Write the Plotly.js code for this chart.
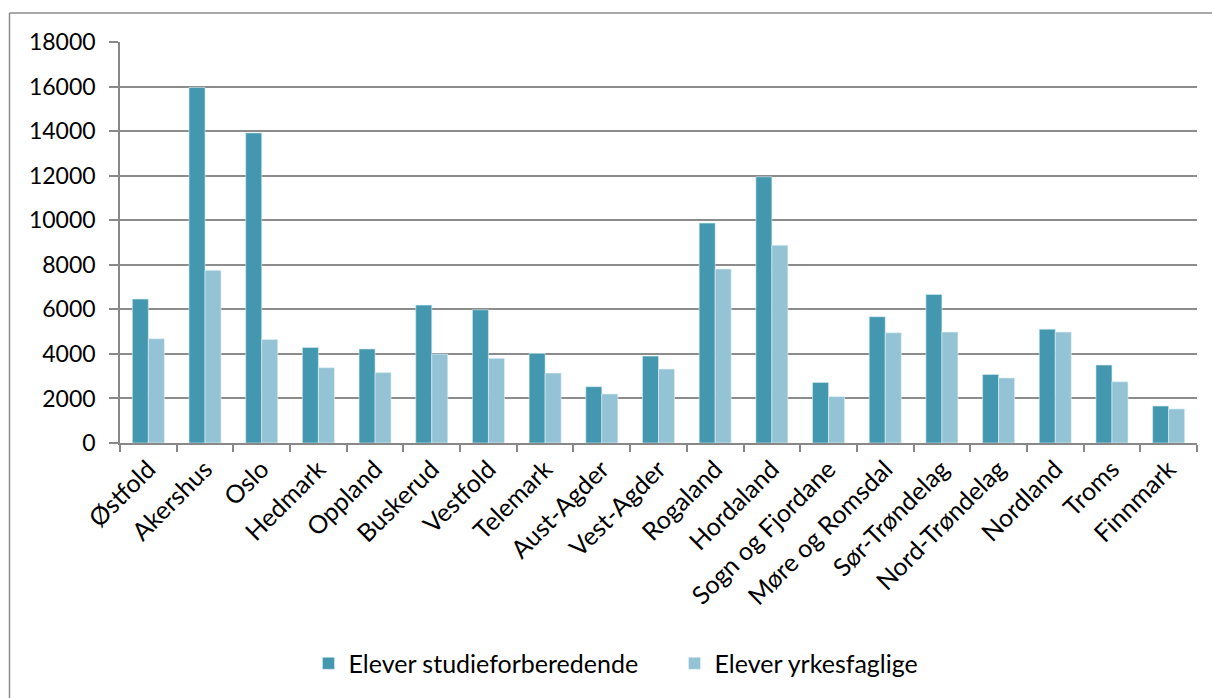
<!DOCTYPE html>
<html>
<head>
<meta charset="utf-8">
<script src="https://cdn.plot.ly/plotly-3.0.1.min.js"></script>
<style>
  html, body { margin: 0; padding: 0; background: #fff; }
  #chart { width: 1212px; height: 698px; }
</style>
</head>
<body>
<div id="chart"></div>
<script>
var fylker = ['Østfold', 'Akershus', 'Oslo', 'Hedmark', 'Oppland', 'Buskerud',
  'Vestfold', 'Telemark', 'Aust-Agder', 'Vest-Agder', 'Rogaland', 'Hordaland',
  'Sogn og Fjordane', 'Møre og Romsdal', 'Sør-Trøndelag', 'Nord-Trøndelag',
  'Nordland', 'Troms', 'Finnmark'];

var studieforberedende = [6460, 15960, 13920, 4290, 4220, 6190,
  5980, 4020, 2530, 3900, 9870, 11950,
  2720, 5670, 6670, 3080,
  5110, 3500, 1660];

var yrkesfaglige = [4680, 7750, 4650, 3380, 3160, 3990,
  3800, 3140, 2200, 3320, 7810, 8880,
  2080, 4950, 4980, 2920,
  4980, 2750, 1530];

var yTicks = [0, 2000, 4000, 6000, 8000, 10000, 12000, 14000, 16000, 18000];

var trace1 = {
    x: fylker,
    y: studieforberedende,
    name: 'Elever studieforberedende',
    type: 'bar',
    marker: { color: '#4398b0', line: { color: '#d9ecf2', width: 0.6 } },
    hoverinfo: 'x+y'
};

var trace2 = {
    x: fylker,
    y: yrkesfaglige,
    name: 'Elever yrkesfaglige',
    type: 'bar',
    marker: { color: '#93c3d4', line: { color: '#e3f1f6', width: 0.6 } },
    hoverinfo: 'x+y'
};

var data = [trace1, trace2];

var layout = {
    width: 1212,
    height: 698,
    margin: { l: 120, r: 15, t: 42, b: 255 },
    paper_bgcolor: '#ffffff',
    plot_bgcolor: '#ffffff',
    font: { family: 'Lato, "Open Sans", sans-serif', size: 23, color: '#000' },
    barmode: 'group',
    bargap: 0.435,
    bargroupgap: 0,
    showlegend: true,
    legend: {
        orientation: 'h',
        x: 0.175,
        xanchor: 'left',
        y: -0.55,
        yanchor: 'middle',
        font: { size: 25 },
        entrywidth: 321,
        itemwidth: 30,
        traceorder: 'normal'
    },
    xaxis: {
        type: 'category',
        tickangle: -45,
        ticks: 'outside',
        tickson: 'boundaries',
        ticklen: 7,
        tickcolor: '#888',
        tickwidth: 1.5,
        showline: true,
        linecolor: '#888',
        linewidth: 1.5,
        showgrid: false,
        tickfont: { size: 25 }
    },
    yaxis: {
        range: [0, 18000],
        tickvals: yTicks,
        ticktext: yTicks.map(String),
        ticks: 'outside',
        ticklen: 9,
        tickcolor: '#888',
        tickwidth: 1.5,
        ticklabelstandoff: 9,
        showline: true,
        linecolor: '#888',
        linewidth: 1.5,
        showgrid: true,
        gridcolor: '#8c8c8c',
        gridwidth: 1.5,
        zeroline: false,
        tickfont: { size: 23 }
    },
    shapes: [
        { type: 'line', xref: 'paper', yref: 'paper', x0: -0.1026, x1: -0.1026, y0: -1.0, y1: 1.0722,
          line: { color: '#8c8c8c', width: 1.5 } },
        { type: 'line', xref: 'paper', yref: 'paper', x0: -0.1026, x1: 1.1, y0: 1.0722, y1: 1.0722,
          line: { color: '#8c8c8c', width: 1.5 } }
    ]
};

Plotly.newPlot('chart', data, layout, { displayModeBar: false, responsive: false });
</script>
</body>
</html>
